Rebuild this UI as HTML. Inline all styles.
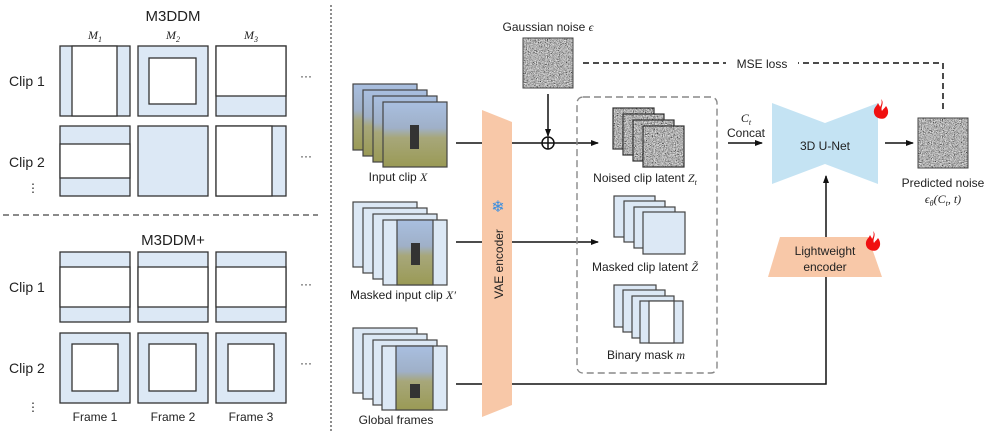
<!DOCTYPE html>
<html><head><meta charset="utf-8"><style>
html,body{margin:0;padding:0;background:#fff;}
svg{display:block;font-family:"Liberation Sans",sans-serif;}
</style></head><body>
<svg width="996" height="437" viewBox="0 0 996 437" xmlns="http://www.w3.org/2000/svg">
<defs>
<filter id="nz" x="0" y="0" width="100%" height="100%">
<feTurbulence type="fractalNoise" baseFrequency="0.9" numOctaves="2" seed="3"/>
<feColorMatrix type="matrix" values="0.33 0.33 0.33 0 0  0.33 0.33 0.33 0 0  0.33 0.33 0.33 0 0  0 0 0 0 1"/>
<feComponentTransfer><feFuncR type="linear" slope="2.4" intercept="-0.75"/><feFuncG type="linear" slope="2.4" intercept="-0.75"/><feFuncB type="linear" slope="2.4" intercept="-0.75"/></feComponentTransfer>
</filter>
<linearGradient id="ph" x1="0" y1="0" x2="0" y2="1">
<stop offset="0" stop-color="#a9bfe0"/><stop offset="0.4" stop-color="#9fb0c8"/><stop offset="0.55" stop-color="#a7a77a"/><stop offset="1" stop-color="#9a9a55"/></linearGradient>
<marker id="ar" markerWidth="8" markerHeight="8" refX="7" refY="4" orient="auto" markerUnits="userSpaceOnUse"><path d="M0,1 L8,4 L0,7 z" fill="#111"/></marker>
<g id="noiseimg"><rect width="50" height="50" fill="#777" filter="url(#nz)"/><rect width="50" height="50" fill="none" stroke="#444" stroke-width="1"/></g>
<path id="flame" d="M2,0 C6,4 1,8 3,12 C4,10 6,9 7,7 C10,11 10,16 6,19 C2,21 -4,19 -5,14 C-6,9 -2,7 -1,4 C0,6 1,7 1,8 C3,5 3,2 2,0 Z" fill="#f01010"/>
</defs>

<!-- LEFT PANEL -->
<g fill="#dce8f5" stroke="#333" stroke-width="1.3">
<text x="173" y="21" font-size="15" text-anchor="middle" fill="#222" stroke="none">M3DDM</text>
<g font-family="Liberation Serif" font-style="italic" font-size="12" fill="#222" stroke="none" text-anchor="middle">
<text x="95" y="39">M<tspan font-size="8" dy="3">1</tspan></text>
<text x="173" y="39">M<tspan font-size="8" dy="3">2</tspan></text>
<text x="251" y="39">M<tspan font-size="8" dy="3">3</tspan></text>
</g>
<g font-size="14" fill="#222" stroke="none">
<text x="9" y="86">Clip 1</text><text x="9" y="167">Clip 2</text>
<text x="9" y="292">Clip 1</text><text x="9" y="373">Clip 2</text>
<text x="27" y="192" font-size="12">⋮</text><text x="27" y="411" font-size="12">⋮</text>
<text x="300" y="80" font-size="12">···</text><text x="300" y="160" font-size="12">···</text>
<text x="300" y="288" font-size="12">···</text><text x="300" y="367" font-size="12">···</text>
</g>
<rect x="60" y="46" width="70" height="70"/><rect x="72" y="46" width="45" height="70" fill="#fff"/>
<rect x="138" y="46" width="70" height="70"/><rect x="149" y="58" width="47" height="46" fill="#fff"/>
<rect x="216" y="46" width="70" height="70"/><rect x="216" y="46" width="70" height="50" fill="#fff"/>
<rect x="60" y="126" width="70" height="70"/><rect x="60" y="144" width="70" height="34" fill="#fff"/>
<rect x="138" y="126" width="70" height="70"/>
<rect x="216" y="126" width="70" height="70"/><rect x="216" y="126" width="56" height="70" fill="#fff"/>
<rect x="60" y="252" width="70" height="70"/><rect x="60" y="267" width="70" height="40" fill="#fff"/>
<rect x="138" y="252" width="70" height="70"/><rect x="138" y="267" width="70" height="40" fill="#fff"/>
<rect x="216" y="252" width="70" height="70"/><rect x="216" y="267" width="70" height="40" fill="#fff"/>
<rect x="60" y="333" width="70" height="70"/><rect x="72" y="344" width="46" height="47" fill="#fff"/>
<rect x="138" y="333" width="70" height="70"/><rect x="149" y="344" width="47" height="47" fill="#fff"/>
<rect x="216" y="333" width="70" height="70"/><rect x="228" y="344" width="46" height="47" fill="#fff"/>
<text x="173" y="245" font-size="15" text-anchor="middle" fill="#222" stroke="none">M3DDM+</text>
<g font-size="12" fill="#222" stroke="none" text-anchor="middle">
<text x="95" y="421">Frame 1</text><text x="173" y="421">Frame 2</text><text x="251" y="421">Frame 3</text></g>
</g>
<line x1="3" y1="215" x2="318" y2="215" stroke="#444" stroke-width="1.2" stroke-dasharray="6,4"/>
<line x1="331" y1="5" x2="331" y2="432" stroke="#444" stroke-width="1.2" stroke-dasharray="2,2"/>

<g stroke="#444" stroke-width="1.2">
<rect x="353" y="84" width="64" height="66" fill="url(#ph)"/>
<rect x="363" y="90" width="64" height="66" fill="url(#ph)"/>
<rect x="373" y="96" width="64" height="66" fill="url(#ph)"/>
<rect x="383" y="102" width="64" height="65" fill="url(#ph)"/>
<rect x="410" y="125" width="9" height="24" fill="#333" stroke="none"/>
</g>
<g stroke="#444" stroke-width="1.2" fill="#dce8f5">
<rect x="353" y="202" width="64" height="65"/><rect x="363" y="208" width="64" height="65"/><rect x="373" y="214" width="64" height="65"/>
<rect x="383" y="220" width="64" height="65"/><rect x="397" y="220" width="36" height="65" fill="url(#ph)"/>
<rect x="411" y="243" width="9" height="22" fill="#333" stroke="none"/>
</g>
<g stroke="#444" stroke-width="1.2" fill="#dce8f5">
<rect x="353" y="328" width="64" height="65"/><rect x="363" y="334" width="64" height="65"/><rect x="373" y="340" width="64" height="65"/>
<rect x="382" y="346" width="65" height="64"/><rect x="396" y="346" width="37" height="64" fill="url(#ph)"/>
<rect x="410" y="384" width="10" height="14" fill="#333" stroke="none"/>
</g>
<g font-size="12" fill="#222" text-anchor="middle">
<text x="398" y="181">Input clip <tspan font-family="Liberation Serif" font-style="italic">X</tspan></text>
<text x="403" y="299">Masked input clip <tspan font-family="Liberation Serif" font-style="italic">X′</tspan></text>
<text x="396" y="424">Global frames</text>
</g>

<polygon points="482,110 512,122 512,405 482,417" fill="#f8c8a8"/>
<text transform="translate(503,264) rotate(-90)" font-size="12" fill="#222" text-anchor="middle">VAE encoder</text>
<text x="498" y="212" font-size="16" fill="#3a8ee0" text-anchor="middle">❄</text>

<g stroke="#111" stroke-width="1.5" fill="none">
<line x1="456" y1="143" x2="482" y2="143"/><line x1="512" y1="143" x2="598" y2="143" marker-end="url(#ar)"/>
<line x1="456" y1="242" x2="482" y2="242"/><line x1="512" y1="242" x2="598" y2="242" marker-end="url(#ar)"/>
<line x1="548" y1="94" x2="548" y2="136" marker-end="url(#ar)"/>
<circle cx="548" cy="143" r="6" fill="#fff"/><line x1="542" y1="143" x2="554" y2="143"/><line x1="548" y1="137" x2="548" y2="149"/>
<polyline points="456,384 482,384"/><polyline points="512,384 826,384 826,176" marker-end="url(#ar)"/>
<line x1="728" y1="143" x2="762" y2="143" marker-end="url(#ar)"/>
<line x1="885" y1="143" x2="913" y2="143" marker-end="url(#ar)"/>
</g>
<polyline points="583,63 943,63 943,112" fill="none" stroke="#111" stroke-width="1.5" stroke-dasharray="6,4"/>
<rect x="726" y="55" width="72" height="16" fill="#fff"/>
<text x="762" y="68" font-size="12" fill="#222" text-anchor="middle">MSE loss</text>

<text x="548" y="31" font-size="12" fill="#222" text-anchor="middle">Gaussian noise <tspan font-family="Liberation Serif" font-style="italic">ϵ</tspan></text>
<use href="#noiseimg" x="523" y="38"/>

<rect x="577" y="97" width="140" height="276" rx="6" fill="none" stroke="#888" stroke-width="1.4" stroke-dasharray="7,4"/>
<g stroke="#333" stroke-width="1.2">
<rect x="613" y="108" width="41" height="41" fill="#666" filter="url(#nz)"/><rect x="613" y="108" width="41" height="41" fill="none"/>
<rect x="623" y="114" width="41" height="41" fill="#666" filter="url(#nz)"/><rect x="623" y="114" width="41" height="41" fill="none"/>
<rect x="633" y="120" width="41" height="41" fill="#666" filter="url(#nz)"/><rect x="633" y="120" width="41" height="41" fill="none"/>
<rect x="643" y="126" width="41" height="41" fill="#666" filter="url(#nz)"/><rect x="643" y="126" width="41" height="41" fill="none"/>
</g>
<g stroke="#444" stroke-width="1.2" fill="#dce8f5">
<rect x="614" y="196" width="41" height="41"/><rect x="624" y="201" width="41" height="41"/><rect x="634" y="207" width="41" height="41"/><rect x="643" y="212" width="42" height="42"/>
<rect x="614" y="285" width="42" height="42"/><rect x="623" y="290" width="42" height="42"/><rect x="632" y="296" width="42" height="42"/>
<rect x="640" y="301" width="43" height="42"/><rect x="649" y="301" width="25" height="42" fill="#fff"/>
</g>
<g font-size="12" fill="#222" text-anchor="middle">
<text x="645" y="182">Noised clip latent <tspan font-family="Liberation Serif" font-style="italic">Z<tspan font-size="8" dy="3">t</tspan></tspan></text>
<text x="645" y="271">Masked clip latent <tspan font-family="Liberation Serif" font-style="italic">Z̃</tspan></text>
<text x="646" y="359">Binary mask <tspan font-family="Liberation Serif" font-style="italic">m</tspan></text>
</g>

<polygon points="772,103 825,123 878,103 878,184 825,164 772,184" fill="#c4e3f3"/>
<text x="825" y="150" font-size="12" fill="#222" text-anchor="middle">3D U-Net</text>
<text x="746" y="122" font-size="12" font-family="Liberation Serif" font-style="italic" text-anchor="middle" fill="#222">C<tspan font-size="8" dy="3">t</tspan></text>
<text x="746" y="137" font-size="12" text-anchor="middle" fill="#222">Concat</text>
<polygon points="780,237 868,237 882,277 768,277" fill="#f8c8a8"/>
<text x="825" y="255" font-size="12" text-anchor="middle" fill="#222">Lightweight</text>
<text x="825" y="271" font-size="12" text-anchor="middle" fill="#222">encoder</text>
<use href="#flame" x="879" y="99"/>
<use href="#flame" x="871" y="231"/>

<use href="#noiseimg" x="918" y="118"/>
<text x="943" y="187" font-size="12" text-anchor="middle" fill="#222">Predicted noise</text>
<text x="943" y="203" font-size="12" font-family="Liberation Serif" font-style="italic" text-anchor="middle" fill="#222">ϵ<tspan font-size="8" dy="3">θ</tspan><tspan dy="-3">(C</tspan><tspan font-size="8" dy="3">t</tspan><tspan dy="-3">, t)</tspan></text>
</svg>
</body></html>
